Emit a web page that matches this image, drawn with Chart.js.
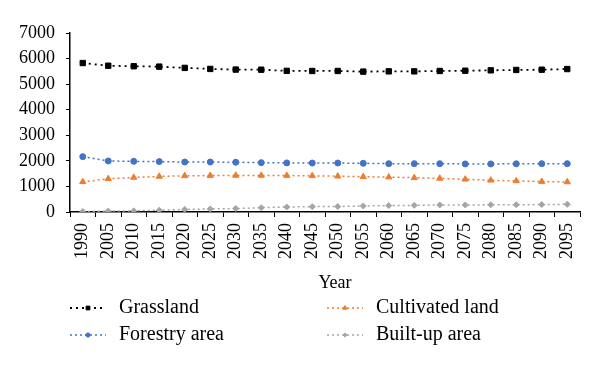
<!DOCTYPE html>
<html>
<head>
<meta charset="utf-8">
<script src="https://cdn.jsdelivr.net/npm/chart.js@4"></script>
<style>
  html, body { margin: 0; padding: 0; background: #fff; }
  #wrap { width: 600px; height: 369px; position: relative; }
</style>
</head>
<body>
<div id="wrap"><canvas id="chart"></canvas></div>
<script>
const years = ['1990', '2005', '2010', '2015', '2020', '2025', '2030', '2035', '2040', '2045',
               '2050', '2055', '2060', '2065', '2070', '2075', '2080', '2085', '2090', '2095'];

const grassland = [5825, 5720, 5700, 5685, 5635, 5595, 5570, 5565, 5520, 5515,
                   5515, 5490, 5500, 5500, 5515, 5525, 5540, 5555, 5565, 5590];
const forestry = [2165, 1995, 1980, 1970, 1955, 1955, 1945, 1930, 1920, 1915,
                  1915, 1905, 1890, 1890, 1890, 1880, 1880, 1885, 1890, 1890];
const cultivated = [1180, 1300, 1350, 1390, 1415, 1425, 1430, 1430, 1425, 1415,
                    1400, 1380, 1365, 1340, 1315, 1280, 1240, 1215, 1190, 1175];
const builtUp = [20, 35, 45, 70, 100, 120, 135, 170, 195, 210,
                 215, 235, 250, 260, 275, 275, 280, 285, 290, 300];

const yTicks = [0, 1000, 2000, 3000, 4000, 5000, 6000, 7000];
const xTitle = 'Year';

const FONT = '"Liberation Serif", "Times New Roman", serif';

// Legend drawn by hand in two columns, like the Excel one
const legendSlots = [
    { ds: 0, x: 70, y: 308 },
    { ds: 2, x: 327, y: 308 },
    { ds: 1, x: 70, y: 335 },
    { ds: 3, x: 327, y: 335 }
];

const excelExtras = {
    id: 'excelExtras',
    afterDraw(chart) {
        const ctx = chart.ctx;
        ctx.save();
        legendSlots.forEach(slot => {
            const ds = chart.data.datasets[slot.ds];
            ctx.strokeStyle = ds.borderColor;
            ctx.lineWidth = ds.borderWidth;
            ctx.setLineDash(ds.borderDash);
            ctx.beginPath();
            ctx.moveTo(slot.x, slot.y);
            ctx.lineTo(slot.x + 36, slot.y);
            ctx.stroke();
            ctx.setLineDash([]);
            ctx.fillStyle = ds.pointBackgroundColor;
            ctx.strokeStyle = ds.pointBorderColor;
            ctx.lineWidth = 1;
            Chart.helpers.drawPoint(ctx, {
                pointStyle: ds.pointStyle,
                radius: ds.pointRadius * 0.7,
                rotation: 0,
                borderWidth: 1
            }, slot.x + 18, slot.y);
            ctx.fillStyle = '#000';
            ctx.font = '20px ' + FONT;
            ctx.textBaseline = 'middle';
            ctx.textAlign = 'left';
            ctx.fillText(ds.label, slot.x + 49, slot.y);
        });
        // axis title sits a little right of centre in the original
        const area = chart.chartArea;
        ctx.fillStyle = '#000';
        ctx.font = '18px ' + FONT;
        ctx.textAlign = 'center';
        ctx.textBaseline = 'middle';
        ctx.fillText(xTitle, (area.left + area.right) / 2 + 10, 283);
        ctx.restore();
    }
};

function series(label, data, color, style, radius, width, dash) {
    return {
        label: label,
        data: data,
        borderColor: color,
        backgroundColor: color,
        pointBackgroundColor: color,
        pointBorderColor: color,
        pointStyle: style,
        pointRadius: radius,
        pointBorderWidth: 1,
        borderWidth: width,
        borderDash: dash,
        fill: false,
        tension: 0
    };
}

new Chart(document.getElementById('chart'), {
    type: 'line',
    data: {
        labels: years,
        datasets: [
            series('Grassland', grassland, '#000000', 'rect', 3.8, 1.8, [2, 4]),
            series('Forestry area', forestry, '#4472C4', 'circle', 3, 1.5, [2, 3]),
            series('Cultivated land', cultivated, '#ED7D31', 'triangle', 3.6, 1.5, [2, 3]),
            series('Built-up area', builtUp, '#A5A5A5', 'rectRot', 3, 1.5, [2, 3])
        ]
    },
    options: {
        responsive: true,
        maintainAspectRatio: false,
        animation: false,
        layout: {
            padding: { top: 33, right: 20, left: 0, bottom: 77 }
        },
        plugins: {
            legend: { display: false },
            tooltip: { enabled: false }
        },
        scales: {
            x: {
                type: 'category',
                offset: true,
                grid: {
                    offset: true,
                    drawOnChartArea: false,
                    drawTicks: true,
                    tickLength: 5,
                    color: '#000'
                },
                border: { color: '#000', width: 1.5 },
                ticks: {
                    minRotation: 90,
                    maxRotation: 90,
                    autoSkip: false,
                    padding: 6,
                    color: '#000',
                    font: { family: FONT, size: 18 }
                },
                afterFit(scale) { scale.height = 80; }
            },
            y: {
                min: 0,
                max: 7000,
                afterBuildTicks(scale) {
                    scale.ticks = yTicks.map(v => ({ value: v }));
                },
                grid: {
                    drawOnChartArea: false,
                    drawTicks: true,
                    tickLength: 4,
                    color: '#000'
                },
                border: { color: '#000', width: 1.5 },
                ticks: {
                    padding: 11,
                    color: '#000',
                    font: { family: FONT, size: 18 },
                    callback: v => String(v)
                },
                afterFit(scale) { scale.width = 70; }
            }
        }
    },
    plugins: [excelExtras]
});
</script>
</body>
</html>
